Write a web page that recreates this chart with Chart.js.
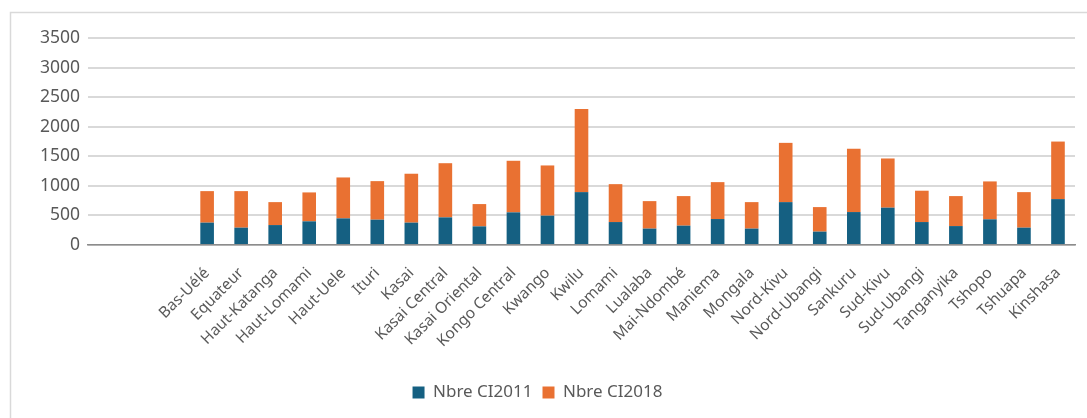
<!DOCTYPE html>
<html>
<head>
<meta charset="utf-8">
<script src="https://cdn.jsdelivr.net/npm/chart.js@4"></script>
<style>
  html, body { margin: 0; padding: 0; background: #fff; }
  #wrap { width: 1087px; height: 418px; }
</style>
</head>
<body>
<div id="wrap"><canvas id="ciChart"></canvas></div>
<script>
// provinces (3 empty slots before Bas-Uélé, as in the source sheet)
const provinces = ['', '', '', 'Bas-Uélé', 'Equateur', 'Haut-Katanga', 'Haut-Lomami', 'Haut-Uele', 'Ituri',
  'Kasai', 'Kasai Central', 'Kasai Oriental', 'Kongo Central', 'Kwango', 'Kwilu', 'Lomami',
  'Lualaba', 'Mai-Ndombé', 'Maniema', 'Mongala', 'Nord-Kivu', 'Nord-Ubangi', 'Sankuru',
  'Sud-Kivu', 'Sud-Ubangi', 'Tanganyika', 'Tshopo', 'Tshuapa', 'Kinshasa'];

const ci2011 = [null, null, null, 378, 293, 337, 400, 450, 428,
  378, 467, 315, 552, 496, 894, 388,
  277, 327, 439, 277, 725, 226, 557,
  631, 388, 320, 434, 293, 776];

const ci2018 = [null, null, null, 533, 618, 388, 489, 692, 652,
  827, 916, 377, 872, 849, 1407, 641,
  465, 500, 624, 448, 1002, 415, 1069,
  832, 530, 507, 641, 601, 973];

const yTicks = [0, 500, 1000, 1500, 2000, 2500, 3000, 3500];

const txt = '#595959';
const fontFam = '"Noto Sans", "Open Sans", sans-serif';

// light frame round the chart (only top and left edges are visible in the crop)
const frame = {
  id: 'frame',
  beforeDraw(chart) {
    const c = chart.ctx;
    c.save();
    c.strokeStyle = '#d9d9d9';
    c.lineWidth = 1.5;
    c.beginPath();
    c.moveTo(1100, 12.5);
    c.lineTo(10.5, 12.5);
    c.lineTo(10.5, 430);
    c.stroke();
    c.restore();
  }
};

new Chart(document.getElementById('ciChart'), {
  type: 'bar',
  data: {
    labels: provinces,
    datasets: [
      { label: 'Nbre CI2011', data: ci2011, backgroundColor: '#156082' },
      { label: 'Nbre CI2018', data: ci2018, backgroundColor: '#E97132' }
    ]
  },
  options: {
    responsive: true,
    maintainAspectRatio: false,
    animation: false,
    datasets: { bar: { categoryPercentage: 1, barPercentage: 0.4 } },
    layout: { padding: { top: 38, right: 12, bottom: 7, left: 0 } },
    scales: {
      x: {
        stacked: true,
        grid: { display: false },
        border: { display: true, color: '#8c8c8c', width: 1.5 },
        ticks: {
          color: txt,
          font: { family: fontFam, size: 15.5 },
          maxRotation: 45,
          minRotation: 45,
          autoSkip: false,
          padding: 11
        },
        afterFit(axis) { axis.height = 129; }
      },
      y: {
        stacked: true,
        min: 0,
        max: 3500,
        afterBuildTicks(axis) { axis.ticks = yTicks.map(v => ({ value: v })); },
        grid: { color: '#d9d9d9', lineWidth: 2, drawTicks: false },
        border: { display: false },
        ticks: {
          color: txt,
          font: { family: fontFam, size: 17.5 },
          padding: 8,
          callback: v => String(v)
        },
        afterFit(axis) { axis.width = 88; }
      }
    },
    plugins: {
      legend: {
        position: 'bottom',
        labels: {
          color: txt,
          font: { family: fontFam, size: 17 },
          boxWidth: 12,
          boxHeight: 12,
          padding: 10
        }
      },
      tooltip: { enabled: false }
    }
  },
  plugins: [frame]
});
</script>
</body>
</html>
